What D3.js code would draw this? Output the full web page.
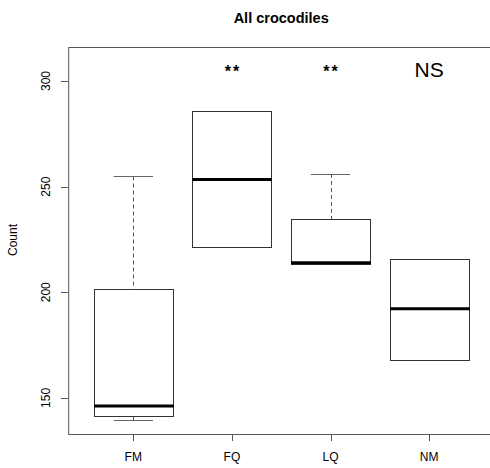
<!DOCTYPE html>
<html>
<head>
<meta charset="utf-8">
<script src="https://cdn.jsdelivr.net/npm/d3@7"></script>
<style>
  body { margin: 0; background: #fff; }
  text { font-family: "Liberation Sans", Arial, sans-serif; }
</style>
</head>
<body>
<script>
// groups and box stats
var groups = ["FM", "FQ", "LQ", "NM"];
var lowWhisker = [139.3, 221.2, 213.3, 168.1];
var lowerQ     = [141.4, 221.2, 213.5, 168.1];
var medians    = [146.2, 253.4, 214.0, 192.2];
var upperQ     = [201.7, 285.8, 234.5, 215.8];
var highWhisker= [254.8, 285.8, 256.0, 215.8];
var signif     = ["", "**", "**", "NS"];
var yTicks = [150, 200, 250, 300];

var width = 490, height = 468;

var svg = d3.select("body").append("svg")
    .attr("width", width)
    .attr("height", height);

// x works like R's boxplot positions 1..n
var xScale = d3.scaleLinear().domain([0.34, 4.66]).range([68.2, 494.2]);
var yScale = d3.scaleLinear().domain([132.9, 316.1]).range([434, 47]);
var boxW = xScale(1.4) - xScale(1);   // half of 0.8 width
var capW = boxW / 2;

var data = groups.map(function(g, i) {
    return {name: g, pos: i + 1, lo: lowWhisker[i], q1: lowerQ[i], med: medians[i],
            q3: upperQ[i], hi: highWhisker[i], sig: signif[i]};
});

//frame
svg.append("rect")
    .attr("x", xScale(0.34) + 0.5)
    .attr("y", yScale(316.1) + 0.5)
    .attr("width", xScale(4.66) - xScale(0.34))
    .attr("height", yScale(132.9) - yScale(316.1))
    .attr("fill", "none")
    .attr("stroke", "#555");

var boxes = svg.selectAll(".box").data(data).enter().append("g").attr("class", "box");

//whiskers
boxes.append("line")
    .attr("x1", function(d) { return Math.round(xScale(d.pos)) + 0.5; })
    .attr("x2", function(d) { return Math.round(xScale(d.pos)) + 0.5; })
    .attr("y1", function(d) { return yScale(d.hi); })
    .attr("y2", function(d) { return yScale(d.q3); })
    .attr("stroke", "#555").attr("stroke-dasharray", "4,3");
boxes.append("line")
    .attr("x1", function(d) { return Math.round(xScale(d.pos)) + 0.5; })
    .attr("x2", function(d) { return Math.round(xScale(d.pos)) + 0.5; })
    .attr("y1", function(d) { return yScale(d.q1); })
    .attr("y2", function(d) { return yScale(d.lo); })
    .attr("stroke", "#555").attr("stroke-dasharray", "4,3");

//caps (skip when whisker sits on the box)
["hi", "lo"].forEach(function(k) {
    boxes.filter(function(d) { return k === "hi" ? d.hi !== d.q3 : d.lo !== d.q1; })
        .append("line")
        .attr("x1", function(d) { return xScale(d.pos) - capW; })
        .attr("x2", function(d) { return xScale(d.pos) + capW; })
        .attr("y1", function(d) { return Math.round(yScale(d[k])) + 0.5; })
        .attr("y2", function(d) { return Math.round(yScale(d[k])) + 0.5; })
        .attr("stroke", "#666");
});

//box
boxes.append("rect")
    .attr("x", function(d) { return Math.round(xScale(d.pos) - boxW) + 0.5; })
    .attr("y", function(d) { return Math.round(yScale(d.q3)) + 0.5; })
    .attr("width", function(d) { return Math.round(2 * boxW); })
    .attr("height", function(d) { return Math.round(yScale(d.q1)) - Math.round(yScale(d.q3)); })
    .attr("fill", "#fff")
    .attr("stroke", "#333");

//median
boxes.append("line")
    .attr("x1", function(d) { return Math.round(xScale(d.pos) - boxW); })
    .attr("x2", function(d) { return Math.round(xScale(d.pos) + boxW) + 1; })
    .attr("y1", function(d) { return yScale(d.med); })
    .attr("y2", function(d) { return yScale(d.med); })
    .attr("stroke", "#000")
    .attr("stroke-width", 3);

//significance labels
boxes.filter(function(d) { return d.sig === "**"; }).append("text")
    .attr("x", function(d) { return xScale(d.pos) + 1; })
    .attr("y", 77)
    .attr("text-anchor", "middle")
    .style("font-size", "16px")
    .style("font-weight", "bold")
    .style("letter-spacing", "2px")
    .text(function(d) { return d.sig; });
boxes.filter(function(d) { return d.sig === "NS"; }).append("text")
    .attr("x", function(d) { return xScale(d.pos); })
    .attr("y", 76.5)
    .attr("text-anchor", "middle")
    .style("font-size", "21px")
    .text(function(d) { return d.sig; });

//x axis
var xAxis = svg.append("g").attr("transform", "translate(0," + 434 + ")");
xAxis.selectAll("line").data(data).enter().append("line")
    .attr("x1", function(d) { return Math.round(xScale(d.pos)) + 0.5; })
    .attr("x2", function(d) { return Math.round(xScale(d.pos)) + 0.5; })
    .attr("y1", 0).attr("y2", 7)
    .attr("stroke", "#555");
xAxis.selectAll("text").data(data).enter().append("text")
    .attr("x", function(d) { return xScale(d.pos); })
    .attr("y", 27)
    .attr("text-anchor", "middle")
    .style("font-size", "12px")
    .text(function(d) { return d.name; });

//y axis
var yAxis = svg.append("g");
yAxis.selectAll("line").data(yTicks).enter().append("line")
    .attr("x1", 61).attr("x2", 68)
    .attr("y1", function(d) { return Math.round(yScale(d)) + 0.5; })
    .attr("y2", function(d) { return Math.round(yScale(d)) + 0.5; })
    .attr("stroke", "#555");
yAxis.selectAll("text").data(yTicks).enter().append("text")
    .attr("transform", function(d) { return "translate(50," + yScale(d) + ") rotate(-90)"; })
    .attr("text-anchor", "middle")
    .style("font-size", "12px")
    .text(function(d) { return d; });

svg.append("text")
    .attr("transform", "translate(17,240) rotate(-90)")
    .attr("text-anchor", "middle")
    .style("font-size", "12px")
    .text("Count");

//title
svg.append("text")
    .attr("x", (xScale(0.34) + xScale(4.66)) / 2)
    .attr("y", 23)
    .attr("text-anchor", "middle")
    .style("font-size", "14.5px")
    .style("font-weight", "bold")
    .text("All crocodiles");
</script>
</body>
</html>
